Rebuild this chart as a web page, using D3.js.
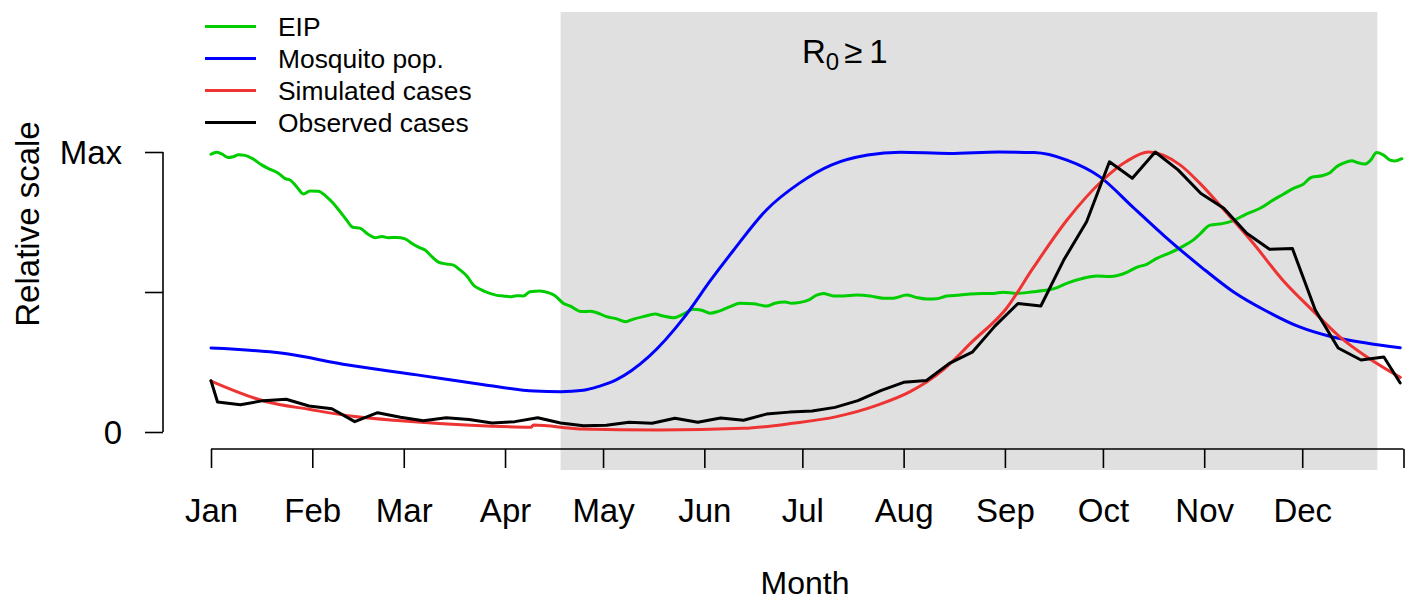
<!DOCTYPE html>
<html>
<head>
<meta charset="utf-8">
<script src="https://cdn.jsdelivr.net/npm/d3@7"></script>
<style>
  html, body { margin: 0; padding: 0; background: #fff; }
  svg { display: block; font-family: "Liberation Sans", Arial, Helvetica, sans-serif; }
</style>
</head>
<body>
<svg id="chart" width="1409" height="601"></svg>
<script>
// Month axis (day of year at the start of each month, plus year end)
const months = ["Jan", "Feb", "Mar", "Apr", "May", "Jun", "Jul", "Aug", "Sep", "Oct", "Nov", "Dec"];
const monthStartDays = [0, 31, 59, 90, 120, 151, 181, 212, 243, 273, 304, 334, 365];

// Y axis ticks on the relative scale
const yTicks = [0, 0.5, 1];
const yTickLabels = ["0", "", "Max"];

// Period where R0 >= 1 (day of year)
const r0Window = [107, 357];

// Legend entries
const legendLabels = ["EIP", "Mosquito pop.", "Simulated cases", "Observed cases"];

// Extrinsic incubation period (relative)
const eipDay = [0, 1.7, 3.3, 5.3, 6.8, 8.4, 10.4, 12.9, 15.5, 18.1, 20.6, 22.7, 24.2, 26.2, 28.3, 30.3, 32.8, 35.4, 37.4, 39.5,
  41.5, 43.4, 45.6, 48.1, 50.2, 52.3, 54.3, 56.8, 59.4, 61.4, 63.5, 65.5, 67.6, 69.6, 72.1, 74.2, 76.2, 78.3, 80.3, 82.9,
  85.4, 87.5, 89.5, 91.5, 93.6, 95.6, 97.6, 100.7, 103.2, 105.3, 107.8, 109.9, 113.5, 116, 118.1, 121.1, 124.2, 126.9, 129.3, 132.3,
  135.9, 138.4, 141.5, 144.6, 147.6, 150.2, 152.7, 155.3, 158.9, 161.9, 166, 170.1, 172.6, 175.7, 177.7, 180.3, 182.8, 185.4, 187.4, 190.5,
  193.5, 197.6, 201.7, 205.8, 208.8, 212.9, 216, 219.1, 222.1, 225.2, 229.3, 232.3, 236.4, 239.5, 242.5, 246.6, 251.7, 254.8, 257.8, 261.9,
  267, 271.1, 275.2, 280.3, 283.3, 286.4, 289.5, 293.5, 297.6, 300.7, 302.7, 305.8, 309.9, 312.9, 317, 321.1, 325.2, 328.2, 331.3, 334.3,
  336.9, 340, 342.5, 344.6, 346.6, 349.2, 350.7, 353.3, 354.8, 356.8, 358.9, 360.9, 362.4, 364.5];
const eipValue = [0.992, 0.999, 0.993, 0.980, 0.983, 0.990, 0.988, 0.975, 0.954, 0.938, 0.924, 0.905, 0.900, 0.876, 0.850, 0.861, 0.860, 0.840, 0.817, 0.787,
  0.757, 0.731, 0.728, 0.706, 0.694, 0.698, 0.694, 0.695, 0.690, 0.674, 0.660, 0.650, 0.626, 0.607, 0.600, 0.596, 0.579, 0.557, 0.525, 0.507,
  0.495, 0.488, 0.486, 0.483, 0.487, 0.486, 0.501, 0.504, 0.498, 0.487, 0.460, 0.450, 0.430, 0.431, 0.426, 0.412, 0.404, 0.394, 0.403, 0.412,
  0.421, 0.414, 0.408, 0.421, 0.438, 0.435, 0.424, 0.431, 0.448, 0.460, 0.458, 0.450, 0.460, 0.464, 0.460, 0.463, 0.471, 0.489, 0.495, 0.486,
  0.486, 0.489, 0.486, 0.478, 0.478, 0.489, 0.480, 0.475, 0.476, 0.486, 0.489, 0.493, 0.495, 0.495, 0.499, 0.495, 0.501, 0.505, 0.511, 0.531,
  0.549, 0.557, 0.555, 0.570, 0.588, 0.599, 0.620, 0.640, 0.664, 0.686, 0.707, 0.739, 0.745, 0.755, 0.779, 0.799, 0.829, 0.849, 0.870, 0.885,
  0.910, 0.915, 0.926, 0.948, 0.960, 0.969, 0.963, 0.957, 0.969, 0.998, 0.989, 0.971, 0.968, 0.976];

// Mosquito population (relative)
const mosquitoDay = [0, 22, 42, 63, 83, 99, 107, 114, 119, 124, 134, 145, 153, 160, 170, 180, 190, 201, 211, 226,
  241, 252, 262, 272, 282, 292, 303, 313, 323, 333, 343, 354, 364];
const mosquitoValue = [0.300, 0.281, 0.239, 0.204, 0.170, 0.146, 0.144, 0.149, 0.164, 0.186, 0.269, 0.412, 0.543, 0.650, 0.793, 0.888, 0.954, 0.989, 0.999, 0.995,
  1.000, 0.998, 0.971, 0.912, 0.805, 0.698, 0.590, 0.500, 0.432, 0.376, 0.340, 0.317, 0.301];

// Simulated cases (relative)
const simulatedDay = [0, 17, 30, 44, 58, 78, 98, 98.7, 113, 137, 163, 178, 191.5, 204, 214, 224, 233, 243.5, 251.6, 262,
  273, 280, 287, 296.6, 302.7, 311, 319, 328, 337, 345.5, 353.7, 364];
const simulatedValue = [0.182, 0.108, 0.081, 0.055, 0.040, 0.025, 0.017, 0.025, 0.011, 0.007, 0.013, 0.031, 0.055, 0.096, 0.144, 0.221, 0.3225, 0.442, 0.585, 0.757,
  0.900, 0.965, 1.000, 0.954, 0.888, 0.781, 0.674, 0.543, 0.436, 0.340, 0.269, 0.195];

// Observed weekly cases (relative)
const observedDay = [0, 2, 9, 16, 23, 30, 37, 44, 51, 58, 65, 72, 79, 86, 93, 100, 107, 114, 121, 128,
  135, 142, 149, 156, 163, 170, 177, 184, 191, 198, 205, 212, 219, 226, 233, 240, 247, 254, 261, 268,
  275, 282, 289, 296, 303, 310, 317, 324, 331, 338, 345, 352, 359, 364];
const observedValue = [0.183, 0.107, 0.0975, 0.112, 0.117, 0.093, 0.083, 0.037, 0.069, 0.053, 0.040, 0.051, 0.045, 0.032, 0.037, 0.051, 0.032, 0.0225, 0.024, 0.035,
  0.031, 0.049, 0.035, 0.050, 0.042, 0.064, 0.071, 0.075, 0.088, 0.112, 0.1475, 0.1775, 0.184, 0.245, 0.285, 0.379, 0.459, 0.450, 0.614, 0.751,
  0.965, 0.906, 1.000, 0.936, 0.852, 0.799, 0.710, 0.6525, 0.655, 0.436, 0.300, 0.257, 0.268, 0.175];

const colors = { eip: "#00cd00", mosquito: "#0000ff", simulated: "#ee3333", observed: "#000000" };
const lineWidth = 3;

const svg = d3.select("#chart");

// Scales: day of year -> x, relative value -> y
const x = d3.scaleLinear().domain([0, 365]).range([211, 1403.5]);
const y = d3.scaleLinear().domain([0, 1]).range([432, 152]);

// Plot region bounds (vertical extent of the shaded band)
const plotTop = 12, plotBottom = 470;

// Shaded R0 >= 1 period
svg.append("rect")
  .attr("x", x(r0Window[0]))
  .attr("y", plotTop)
  .attr("width", x(r0Window[1]) - x(r0Window[0]))
  .attr("height", plotBottom - plotTop)
  .attr("fill", "#e0e0e0");

// R0 label
const r0Label = svg.append("text")
  .attr("x", 802).attr("y", 63)
  .attr("font-size", 33).attr("fill", "#000");
r0Label.append("tspan").text("R");
r0Label.append("tspan").attr("font-size", 24).attr("dy", 7).text("0");
r0Label.append("tspan").attr("dy", -7).attr("dx", 5).text("\u2265");
r0Label.append("tspan").attr("dx", 7).text("1");

// X axis
const xAxis = d3.axisBottom(x)
  .tickValues(monthStartDays)
  .tickSize(19)
  .tickSizeOuter(0)
  .tickFormat((d, i) => months[i] !== undefined ? months[i] : "");
const gx = svg.append("g").attr("transform", "translate(0,449)").call(xAxis);
gx.select(".domain").attr("stroke", "#000").attr("stroke-width", 1.6)
  .attr("d", `M${x(0)},0H${x(365)}`);
gx.selectAll(".tick line").attr("stroke", "#000").attr("stroke-width", 1.6);
gx.selectAll(".tick text")
  .attr("font-size", 33).attr("fill", "#000")
  .attr("font-family", "Liberation Sans, Arial, sans-serif")
  .attr("y", 0).attr("dy", 0)
  .attr("transform", "translate(0,73)");

// Y axis
const yAxis = d3.axisLeft(y)
  .tickValues(yTicks)
  .tickSize(18)
  .tickSizeOuter(0)
  .tickFormat((d, i) => yTickLabels[i]);
const gy = svg.append("g").attr("transform", "translate(163,0)").call(yAxis);
gy.select(".domain").attr("stroke", "#000").attr("stroke-width", 1.6)
  .attr("d", `M0,${y(0)}V${y(1)}`);
gy.selectAll(".tick line").attr("stroke", "#000").attr("stroke-width", 1.6);
gy.selectAll(".tick text")
  .attr("font-size", 33).attr("fill", "#000")
  .attr("font-family", "Liberation Sans, Arial, sans-serif")
  .attr("x", -41).attr("dy", "0.36em");

// Axis titles
svg.append("text")
  .attr("x", 805).attr("y", 594)
  .attr("text-anchor", "middle")
  .attr("font-size", 32).attr("fill", "#000")
  .text("Month");
svg.append("text")
  .attr("transform", "translate(39,224) rotate(-90)")
  .attr("text-anchor", "middle")
  .attr("font-size", 33).attr("fill", "#000")
  .text("Relative scale");

// Series lines
function drawSeries(days, values, color, curve) {
  const pts = days.map((d, i) => [d, values[i]]);
  const line = d3.line().x(d => x(d[0])).y(d => y(d[1])).curve(curve);
  svg.append("path")
    .attr("d", line(pts))
    .attr("fill", "none")
    .attr("stroke", color)
    .attr("stroke-width", lineWidth)
    .attr("stroke-linejoin", "round")
    .attr("stroke-linecap", "round");
}

drawSeries(eipDay, eipValue, colors.eip, d3.curveMonotoneX);
drawSeries(mosquitoDay, mosquitoValue, colors.mosquito, d3.curveMonotoneX);
drawSeries(simulatedDay, simulatedValue, colors.simulated, d3.curveMonotoneX);
drawSeries(observedDay, observedValue, colors.observed, d3.curveLinear);

// Legend
const legendColors = [colors.eip, colors.mosquito, colors.simulated, colors.observed];
const legend = svg.append("g");
legendLabels.forEach((label, i) => {
  const ly = 26.5 + i * 32;
  legend.append("line")
    .attr("x1", 205).attr("x2", 256)
    .attr("y1", ly).attr("y2", ly)
    .attr("stroke", legendColors[i]).attr("stroke-width", lineWidth);
  legend.append("text")
    .attr("x", 278).attr("y", ly)
    .attr("dy", "0.36em")
    .attr("font-size", 26.4).attr("fill", "#000")
    .text(label);
});
</script>
</body>
</html>
